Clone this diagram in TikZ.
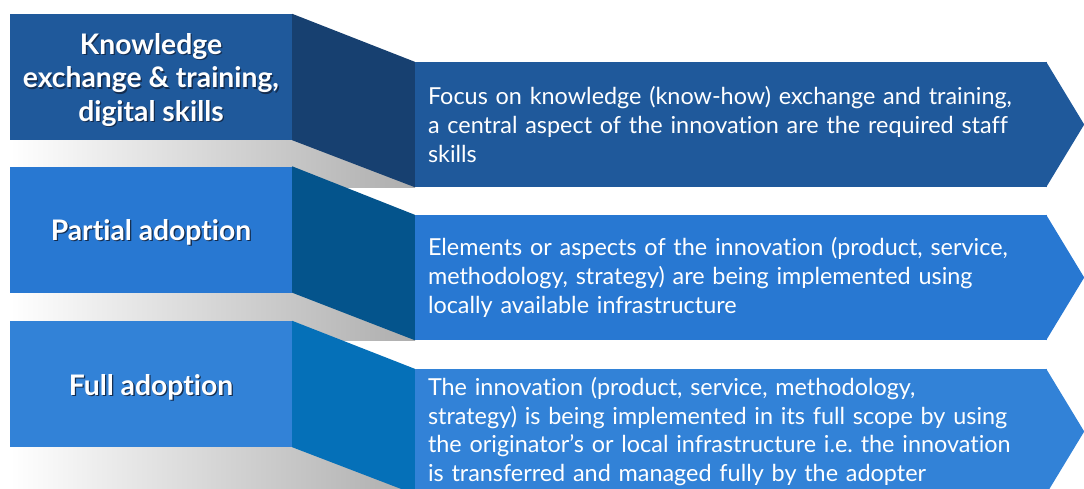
\documentclass[tikz,border=0pt]{standalone}
\usepackage{fontspec}
\setmainfont{Lato}[Ligatures=NoCommon]
\frenchspacing
\definecolor{rowA}{HTML}{1F599B}
\definecolor{sideA}{HTML}{174070}
\definecolor{rowB}{HTML}{2878D2}
\definecolor{sideB}{HTML}{04548C}
\definecolor{rowC}{HTML}{3282D7}
\definecolor{sideC}{HTML}{0570B8}
\definecolor{tshadow}{HTML}{142D50}
% title line with a soft drop shadow
\newcommand{\shline}[1]{\makebox[0pt][l]{\hspace{1.3pt}\raisebox{-1.3pt}{\textcolor{tshadow}{#1}}}#1}

\begin{document}
\begin{tikzpicture}[x=1pt, y=-1pt,
		every node/.style={text=white},
		stage/.style={rectangle, minimum width=282pt, minimum height=126pt, inner sep=0pt,
			label={[title]center:#1}},
		title/.style={font=\bfseries\fontsize{28.3}{33.3}\selectfont, align=center, yshift=-3.5pt},
		descr/.style={rectangle, minimum width=632pt, minimum height=125pt, inner xsep=13pt, inner ysep=0pt,
			text width=606pt, align=left, font=\fontsize{23.4}{28.7}\selectfont},
		ground/.style={left color=white, right color=black!32}]
	\useasboundingbox (0,0) rectangle (1084,488);
	\clip (0,0) rectangle (1084,488);

	% Shadows
	\shade[ground] (10,140) rectangle (415,187);
	\shade[ground] (10,292) rectangle (415,340);
	\shade[ground] (10,447) rectangle (415,494);

	% Nodes
	\node[stage={\shline{Knowledge}\\\shline{exchange \& training,}\\\shline{digital skills}}, fill=rowA] (know) at (151,77) {};
	\node[stage={\shline{Partial adoption}}, fill=rowB] (part) at (151,229.5) {};
	\node[stage={\shline{Full adoption}}, fill=rowC] (full) at (151,384) {};

	\node[descr, fill=rowA] (knowtxt) at (731,124.5) {Focus on knowledge (know-how) exchange and training,\\a central aspect of the innovation are the required staff\\skills};
	\node[descr, fill=rowB] (parttxt) at (731,277.5) {Elements or aspects of the innovation (product, service,\\methodology, strategy) are being implemented using\\locally available infrastructure};
	\node[descr, fill=rowC] (fulltxt) at (731,431.5) {The innovation (product, service, methodology,\\strategy) is being implemented in its full scope by using\\the originator’s or local infrastructure i.e. the innovation\\is transferred and managed fully by the adopter};

	% Arrow tips
	\fill[rowA] ([xshift=-1pt]knowtxt.north east) -- ([xshift=37pt]knowtxt.east) -- ([xshift=-1pt]knowtxt.south east) -- cycle;
	\fill[rowB] ([xshift=-1pt]parttxt.north east) -- ([xshift=37pt]parttxt.east) -- ([xshift=-1pt]parttxt.south east) -- cycle;
	\fill[rowC] ([xshift=-1pt]fulltxt.north east) -- ([xshift=37pt]fulltxt.east) -- ([xshift=-1pt]fulltxt.south east) -- cycle;

	% Connecting sides
	\fill[sideA] (know.north east) -- (knowtxt.north west) -- (knowtxt.south west) -- (know.south east) -- cycle;
	\fill[sideB] (part.north east) -- (parttxt.north west) -- (parttxt.south west) -- (part.south east) -- cycle;
	\fill[sideC] (full.north east) -- (fulltxt.north west) -- (fulltxt.south west) -- (full.south east) -- cycle;
\end{tikzpicture}
\end{document}
